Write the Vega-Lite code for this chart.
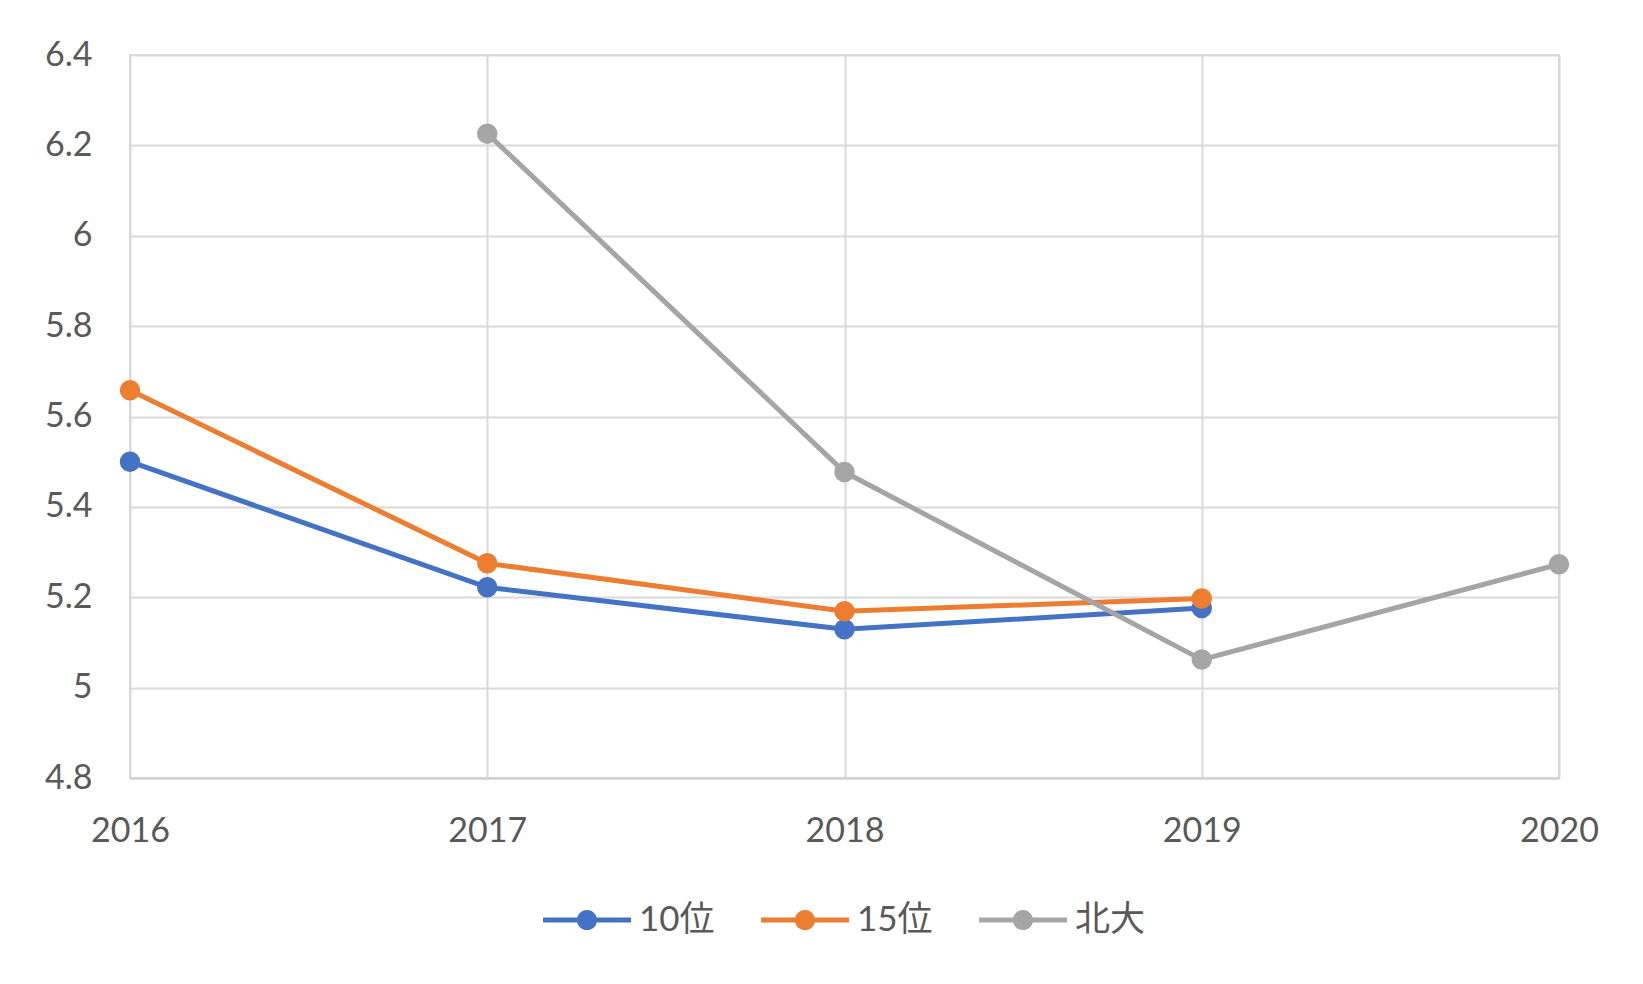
{
  "$schema": "https://vega.github.io/schema/vega-lite/v6.json",
  "autosize": {"type": "none"},
  "width": 1429,
  "height": 723,
  "padding": {"left": 130, "top": 55, "right": 84, "bottom": 206},
  "background": "white",
  "data": {
    "values": [
      {"year": 2016, "series": "10位", "value": 5.50},
      {"year": 2017, "series": "10位", "value": 5.222},
      {"year": 2018, "series": "10位", "value": 5.129},
      {"year": 2019, "series": "10位", "value": 5.176},
      {"year": 2016, "series": "15位", "value": 5.658},
      {"year": 2017, "series": "15位", "value": 5.275},
      {"year": 2018, "series": "15位", "value": 5.169},
      {"year": 2019, "series": "15位", "value": 5.197},
      {"year": 2017, "series": "北大", "value": 6.226},
      {"year": 2018, "series": "北大", "value": 5.477},
      {"year": 2019, "series": "北大", "value": 5.062},
      {"year": 2020, "series": "北大", "value": 5.273}
    ]
  },
  "encoding": {
    "x": {
      "field": "year", "type": "quantitative",
      "scale": {"domain": [2016, 2020], "nice": false, "zero": false},
      "axis": {"title": null, "values": [2016, 2017, 2018, 2019, 2020], "format": "d", "labelPadding": 36, "labelFlush": false, "ticks": false, "domain": true, "domainColor": "#D0D0D0", "domainWidth": 2}
    },
    "y": {
      "field": "value", "type": "quantitative",
      "scale": {"domain": [4.8, 6.4], "nice": false, "zero": false},
      "axis": {"title": null, "values": [4.8, 5, 5.2, 5.4, 5.6, 5.8, 6, 6.2, 6.4], "format": "~g", "labelPadding": 38, "labelFlush": false, "ticks": false, "domain": false}
    },
    "color": {
      "field": "series", "type": "nominal",
      "scale": {"domain": ["10位", "15位", "北大"], "range": ["#4472C4", "#ED7D31", "#A5A5A5"]}
    }
  },
  "layer": [
    {
      "mark": {"type": "line", "strokeWidth": 5},
      "encoding": {
        "color": {"field": "series", "type": "nominal", "legend": null,
          "scale": {"domain": ["10位", "15位", "北大"], "range": ["#4472C4", "#ED7D31", "#A5A5A5"]}}
      }
    },
    {
      "mark": {"type": "point", "filled": true, "size": 420, "opacity": 1},
      "encoding": {
        "color": {
          "field": "series", "type": "nominal",
          "scale": {"domain": ["10位", "15位", "北大"], "range": ["#4472C4", "#ED7D31", "#A5A5A5"]},
          "legend": {
            "title": null, "orient": "bottom", "direction": "horizontal",
            "symbolType": "M-1,-0.055H-0.2V0.055H-1Z M0.2,-0.055H1V0.055H0.2Z M0.23,0A0.23,0.23,0,1,1,-0.23,0A0.23,0.23,0,1,1,0.23,0Z",
            "symbolSize": 7744, "symbolStrokeWidth": 0, "symbolOpacity": 1,
            "labelOffset": 8, "columnPadding": 46, "offset": 28,
            "labelFontSize": 35, "labelColor": "#595959", "labelFont": "Lato, Noto Sans CJK JP"
          }
        }
      }
    }
  ],
  "resolve": {"legend": {"color": "independent"}},
  "config": {
    "view": {"stroke": "#D9D9D9", "strokeWidth": 2},
    "axis": {
      "grid": true, "gridColor": "#D9D9D9", "gridWidth": 2,
      "labelFont": "Lato", "labelFontSize": 34, "labelColor": "#595959"
    },
    "legend": {"layout": {"bottom": {"anchor": "middle"}}}
  }
}
